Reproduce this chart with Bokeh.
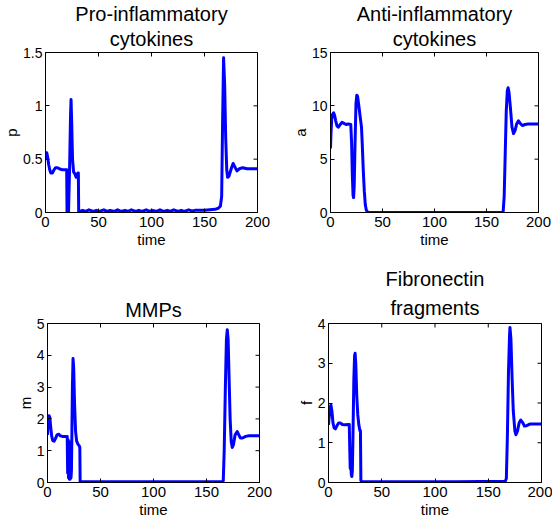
import math
from bokeh.plotting import figure
from bokeh.models import FixedTicker, NumeralTickFormatter, Range1d, Title
from bokeh.layouts import column, row
from bokeh.embed import file_html
from bokeh.resources import INLINE

FONT = "Liberation Sans"
BLUE = "#0000ff"

# ---------------- data ----------------
time_ticks = [0, 50, 100, 150, 200]

# Pro-inflammatory cytokines, p
t_p = [0, 0.6, 1.2, 2.0, 3.0, 4.0, 5.0, 6.5, 8.0, 9.5, 11, 13, 16, 20.0,
       20.3, 21.7, 22.8, 23.6, 24.1, 24.7, 25.5, 26.5, 27.3, 29.0, 30.5, 31.0,
       31.3, 35, 38, 41, 45, 48, 51, 55, 58, 61, 65, 68, 71, 75, 78, 81, 85,
       88, 91, 95, 98, 101, 105, 108, 111, 115, 118, 121, 125, 128, 131, 135,
       138, 141, 145, 150, 155, 160, 163, 165, 166.2, 167.0, 168.0, 169.0,
       170.0, 171.0, 171.8, 173.0, 175.5, 177.0, 178.5, 180.6, 183, 186, 190, 200]
p_vals = [0.50, 0.56, 0.56, 0.52, 0.45, 0.40, 0.37, 0.37, 0.40, 0.42, 0.42, 0.41, 0.40, 0.40,
          0.00, 0.00, 0.45, 0.90, 1.06, 0.85, 0.50, 0.38, 0.37, 0.33, 0.37, 0.37,
          0.005, 0.02, 0.01, 0.025, 0.01, 0.02, 0.01, 0.025, 0.01, 0.02, 0.01, 0.025, 0.01,
          0.02, 0.01, 0.025, 0.01, 0.02, 0.01, 0.025, 0.01, 0.02, 0.01, 0.025, 0.01,
          0.02, 0.01, 0.025, 0.01, 0.02, 0.01, 0.025, 0.015, 0.02, 0.02, 0.02, 0.025,
          0.03, 0.04, 0.06, 0.15, 0.80, 1.45, 1.20, 0.70, 0.40, 0.33, 0.34, 0.42, 0.46,
          0.43, 0.39, 0.41, 0.42, 0.41, 0.41]

# Anti-inflammatory cytokines, a
t_a = [0, 0.5, 1.2, 2.0, 3.0, 4.0, 5.0, 6.3, 7.5, 9.0, 11, 13, 15, 17, 19.5,
       20.3, 21.0, 21.7, 22.2, 22.8, 23.6, 24.5, 25.3, 26.0, 27.0, 28.5, 29.8,
       30.5, 31.5, 32.5, 33.5, 34.5, 36, 40, 165, 166, 167, 168, 169, 170,
       170.8, 171.6, 173, 174.5, 176, 177.5, 179, 180.7, 182.5, 184.5, 187, 190, 200]
a_vals = [6.0, 7.5, 8.8, 9.2, 9.35, 9.1, 8.6, 8.1, 8.0, 8.2, 8.45, 8.35, 8.25, 8.3, 8.25,
          6.5, 3.5, 1.6, 1.4, 2.5, 6.5, 10.2, 11.0, 10.9, 10.2, 9.0, 8.0,
          6.5, 4.0, 2.0, 0.7, 0.2, 0.03, 0.0, 0.0, 0.05, 1.5, 5.5, 9.5, 11.4,
          11.7, 11.3, 9.8, 8.0, 7.4, 7.7, 8.3, 8.6, 8.35, 8.15, 8.25, 8.3, 8.3]

# MMPs, m
t_m = [0, 0.7, 1.5, 2.2, 3.0, 4.0, 5.0, 6.3, 7.5, 9.0, 10.5, 12, 14, 16, 18.6,
       19.0, 19.4, 19.8, 20.2, 20.6, 21.0, 21.4, 21.8, 22.2, 22.6, 23.0, 23.5,
       24.1, 24.7, 25.5, 26.5, 27.5, 28.8, 30.0, 30.5, 30.8, 40, 80, 120, 165,
       165.8, 166.7, 167.8, 168.8, 169.6, 170.4, 171.3, 172.3, 173.3, 174.3,
       175.5, 177, 179, 180.5, 182, 184, 187, 190, 200]
m_vals = [1.5, 1.9, 2.1, 2.05, 1.75, 1.45, 1.32, 1.30, 1.38, 1.50, 1.52, 1.47, 1.45, 1.45, 1.45,
          0.30, 1.35, 0.15, 1.30, 0.10, 1.25, 0.10, 1.20, 0.15, 0.40, 1.5, 3.0,
          3.9, 3.6, 2.5, 1.6, 1.3, 1.2, 1.15, 1.1, 0.02, 0.02, 0.02, 0.02, 0.02,
          0.05, 1.0, 3.0, 4.5, 4.8, 4.5, 3.3, 2.0, 1.3, 1.1,
          1.2, 1.5, 1.6, 1.5, 1.4, 1.4, 1.45, 1.47, 1.47]

# Fibronectin fragments, f
t_f = [0, 0.8, 1.6, 2.3, 3.2, 4.2, 5.3, 6.5, 7.8, 9.5, 11, 13, 15, 19.5,
       20.0, 20.4, 20.9, 21.4, 21.9, 22.4, 23.0, 23.8, 24.5, 25.0, 25.6, 26.5,
       27.5, 28.5, 29.5, 30.0, 30.4, 31.5, 80, 120, 166, 167, 168, 169, 170,
       170.4, 171.3, 172.3, 173.5, 175, 176, 177.5, 179, 180.5, 182.5, 184,
       186, 189, 200]
f_vals = [1.45, 1.7, 1.9, 1.95, 1.8, 1.5, 1.37, 1.35, 1.42, 1.5, 1.5, 1.46, 1.45, 1.46,
          0.8, 0.35, 0.5, 0.2, 0.15, 0.3, 1.2, 2.6, 3.2, 3.25, 3.0, 2.2,
          1.7, 1.45, 1.3, 1.3, 0.05, 0.02, 0.02, 0.02, 0.03, 0.1, 1.2, 2.8, 3.7,
          3.9, 3.6, 2.7, 1.8, 1.3, 1.2, 1.3, 1.5, 1.57, 1.5, 1.42,
          1.43, 1.47, 1.47]

panels = [
    dict(t=t_p, y=p_vals, ylabel="p", titles=["Pro-inflammatory", "cytokines"], ymax=1.5, yticks=[0, 0.5, 1, 1.5]),
    dict(t=t_a, y=a_vals, ylabel="a", titles=["Anti-inflammatory", "cytokines"], ymax=15, yticks=[0, 5, 10, 15]),
    dict(t=t_m, y=m_vals, ylabel="m", titles=["MMPs"], ymax=5, yticks=[0, 1, 2, 3, 4, 5]),
    dict(t=t_f, y=f_vals, ylabel="f", titles=["Fibronectin", "fragments"], ymax=4, yticks=[0, 1, 2, 3, 4]),
]

# layout geometry: (width, height, border left/right/top/bottom, title standoffs inner/outer)
geom = [
    (288, 257, 43, 31, 52, 45, 5, -3),
    (264, 257, 38, 14, 52, 45, 5, -3),
    (288, 263, 47, 29, 66, 37, 5, 0),
    (264, 263, 40, 11, 66, 37, 9, 1),
]


def style_axis(ax, ticks, label_px):
    ax.ticker = FixedTicker(ticks=ticks)
    ax.formatter = NumeralTickFormatter(format="0.[0]")
    ax.major_tick_in = 4
    ax.major_tick_out = 0
    ax.minor_tick_in = 0
    ax.minor_tick_out = 0
    ax.axis_line_color = "black"
    ax.major_tick_line_color = "black"
    ax.major_label_text_font = FONT
    ax.major_label_text_font_size = label_px
    ax.major_label_text_color = "black"
    ax.axis_label_text_font = FONT
    ax.axis_label_text_font_size = "15px"
    ax.axis_label_text_font_style = "normal"
    ax.axis_label_text_color = "black"


def style_title(t, standoff):
    t.text_font = FONT
    t.text_font_size = "20px"
    t.text_font_style = "normal"
    t.text_color = "black"
    t.align = "center"
    t.text_line_height = 1.0
    t.standoff = standoff


figs = []
for pan, (w, h, bl, br, bt, bb, s_in, s_out) in zip(panels, geom):
    f = figure(width=w, height=h, x_range=Range1d(0, 200), y_range=Range1d(0, pan["ymax"]),
               output_backend="svg", toolbar_location=None, title=pan["titles"][0],
               min_border_left=bl, min_border_right=br, min_border_top=bt, min_border_bottom=bb)
    f.line(pan["t"], pan["y"], line_color=BLUE, line_width=3, line_join="round")
    # inward ticks on the top and right edges of the box (half of each dash is clipped)
    f.scatter(x=time_ticks, y=[pan["ymax"]] * len(time_ticks), marker="dash", size=8,
              angle=math.pi / 2, line_color="black", line_width=1)
    f.scatter(x=[200] * len(pan["yticks"]), y=pan["yticks"], marker="dash", size=8,
              line_color="black", line_width=1)
    f.xgrid.visible = False
    f.ygrid.visible = False
    f.outline_line_color = "black"
    f.outline_line_alpha = 1.0
    f.background_fill_color = "white"
    f.border_fill_color = "white"
    xa, ya = f.xaxis[0], f.yaxis[0]
    style_axis(xa, time_ticks, "15px")
    style_axis(ya, pan["yticks"], "14px")
    xa.major_label_standoff = 4
    xa.axis_label_standoff = 1
    ya.major_label_standoff = 3
    ya.axis_label_standoff = 0
    xa.axis_label = "time"
    ya.axis_label = pan["ylabel"]
    if len(pan["titles"]) == 2:
        inner = Title(text=pan["titles"][1])
        style_title(inner, s_in)
        f.add_layout(inner, "above")
        style_title(f.title, s_out)
    else:
        style_title(f.title, s_in)
    figs.append(f)

layout = column(row(figs[0], figs[1]), row(figs[2], figs[3]))

open("out.html", "w").write(file_html(layout, INLINE))
